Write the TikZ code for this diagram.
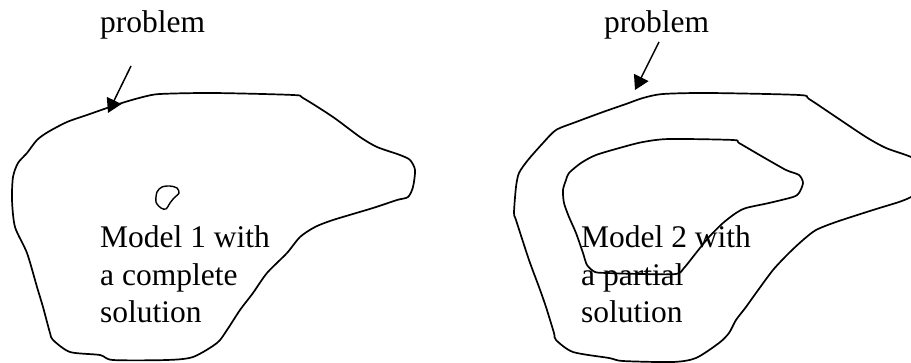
\documentclass[tikz,border=0pt]{standalone}
\usepackage{fontspec}
\setmainfont{Liberation Serif}
\usetikzlibrary{arrows.meta}
\begin{document}
\begin{tikzpicture}[x=1pt,y=-1pt,
  outline/.style={line width=1.7pt, line join=round},
  lbl/.style={anchor=base west, inner sep=0pt, font=\fontsize{31.5}{37}\selectfont},
  ptr/.style={line width=1.5pt, -{Triangle[length=14pt,width=16pt]}}]
\useasboundingbox (0,0) rectangle (911,363);
\begin{scope}
\clip (0,0) rectangle (911,363);
% left outer blob
\draw[outline] plot[smooth cycle, tension=0.45] coordinates {
 (107,108) (125,102) (143,97) (160,94) (213,93) (293,95) (303,98) (333,117)
 (360,137) (377,147) (400,155) (410,160) (415,170) (413,187) (408,197) (397,200)
 (373,208) (333,220) (315,227) (300,237) (287,253) (267,273) (253,293) (240,310)
 (227,330) (217,343) (193,357) (167,360) (113,360) (100,355) (70,352) (53,340)
 (50,333) (43,307) (37,287) (27,253) (15,227) (12,200) (13,177) (18,163)
 (27,153) (37,140) (48,132) (67,122) (87,115)};
% small inner blob
\draw[line width=1.4pt] plot[smooth cycle, tension=0.5] coordinates {
 (157,192) (162,187) (170,186) (177,188) (179,193) (174,198) (170,203)
 (166,209) (161,208) (156,202)};
% right outer blob
\draw[outline] plot[smooth cycle, tension=0.45] coordinates {
 (626,104) (643,98) (663,94) (709,93) (799,95) (809,99) (836,117) (866,137)
 (886,148) (911,157) (920,165) (920,190) (911,197) (899,202) (873,210) (836,222)
 (816,230) (803,240) (789,253) (773,270) (756,293) (746,307) (736,320) (729,333)
 (719,343) (696,358) (673,362) (623,361) (609,358) (573,352) (556,340) (554,333)
 (546,307) (539,287) (529,260) (516,220) (514,213) (516,187) (519,173) (528,160)
 (543,143) (556,130) (576,122) (603,112)};
% right inner blob
\draw[outline] plot[smooth cycle, tension=0.45] coordinates {
 (569,173) (581,163) (596,155) (623,147) (643,142) (669,139) (733,140) (739,143)
 (763,157) (786,170) (799,175) (803,183) (799,193) (793,197) (769,203) (746,208)
 (736,213) (723,223) (709,237) (696,253) (684,268) (676,274) (640,274) (607,273)
 (595,272) (587,265) (583,253) (576,233) (569,217) (564,203) (563,190) (566,180)};
\end{scope}
% labels
\node[lbl] (p1) at (100,33) {problem};
\node[lbl] (p2) at (604,33) {problem};
\node[lbl] (m1a) at (100,248) {Model 1 with};
\node[lbl] (m1b) at (100,286) {a complete};
\node[lbl] (m1c) at (100,323) {solution};
\node[lbl] (m2a) at (581,248) {Model 2 with};
\node[lbl] (m2b) at (581,286) {a partial};
\node[lbl] (m2c) at (581,323) {solution};
% arrows
\coordinate (a1s) at (131,66);
\coordinate (a1e) at (108,113);
\coordinate (a2s) at (659,42);
\coordinate (a2e) at (635,90);
\draw[ptr] (a1s) -- (a1e);
\draw[ptr] (a2s) -- (a2e);
\end{tikzpicture}
\end{document}
